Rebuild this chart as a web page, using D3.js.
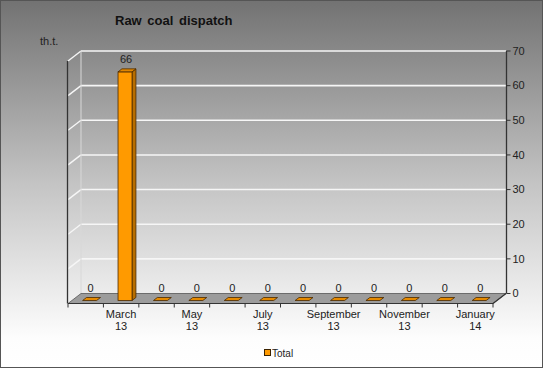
<!DOCTYPE html>
<html><head><meta charset="utf-8">
<script src="https://cdn.jsdelivr.net/npm/d3@7"></script>
<style>html,body{margin:0;padding:0;background:#fff}svg{display:block}</style>
</head><body>
<script>
const months = ["February","March","April","May","June","July","August","September","October","November","December","January"];
const years = ["13","13","13","13","13","13","13","13","13","13","13","14"];
const values = [0,66,0,0,0,0,0,0,0,0,0,0];
const yTicks = [0,10,20,30,40,50,60,70];
const seriesName = "Total";
const title = "Raw coal dispatch";
const unit = "th.t.";

const W = 543, H = 368;
const svg = d3.select("body").append("svg").attr("width", W).attr("height", H);
const defs = svg.append("defs");
const g = defs.append("linearGradient").attr("id","bg").attr("x1",0).attr("y1",0).attr("x2",0).attr("y2",1);
g.append("stop").attr("offset","0%").attr("stop-color","#727272");
g.append("stop").attr("offset","50%").attr("stop-color","#c4c4c4");
g.append("stop").attr("offset","92%").attr("stop-color","#fdfdfd");
g.append("stop").attr("offset","100%").attr("stop-color","#ffffff");
svg.append("rect").attr("width",W).attr("height",H).attr("fill","url(#bg)");

const DX = 13, DY = 10;             // depth offset (back = front + (DX,-DY))
const cats = months.map((m,i)=>m+" "+years[i]);
const x = d3.scaleBand().domain(cats).range([68, 493]).padding(0);
const yB = d3.scaleLinear().domain([0,70]).range([293.5, 51]); // back wall
const font = "'Liberation Sans', Arial, sans-serif";

// back wall gridlines
svg.append("g").selectAll("line").data(yTicks.filter(t=>t>0)).join("line")
  .attr("x1", 68+DX).attr("x2", 493+DX).attr("y1", d=>yB(d)).attr("y2", d=>yB(d))
  .attr("stroke","#f6f6f6").attr("stroke-width",1.6);
// left wall gridlines
svg.append("g").selectAll("line").data(yTicks.filter(t=>t>0)).join("line")
  .attr("x1", 68+DX).attr("x2", 68).attr("y1", d=>yB(d)).attr("y2", d=>yB(d)+DY)
  .attr("stroke","#f6f6f6").attr("stroke-width",1.4);
// left wall back edge
svg.append("line").attr("x1",68+DX).attr("x2",68+DX).attr("y1",yB(70)).attr("y2",yB(0))
  .attr("stroke","#d8d8d8").attr("stroke-width",1);
// left wall front edge
svg.append("line").attr("x1",67.5).attr("x2",67.5).attr("y1",yB(70)+DY).attr("y2",yB(0)+DY)
  .attr("stroke","#333").attr("stroke-width",1.3);

// floor
const fy = yB(0);
svg.append("path")
  .attr("d", `M${68},${fy+DY} L${493},${fy+DY} L${493+DX},${fy} L${68+DX},${fy} Z`)
  .attr("fill","#9c9c9c").attr("stroke","#555").attr("stroke-width",0.8);
svg.append("line").attr("x1",68).attr("x2",493).attr("y1",fy+DY).attr("y2",fy+DY).attr("stroke","#333").attr("stroke-width",1.2);
svg.append("line").attr("x1",493).attr("x2",493+DX).attr("y1",fy+DY).attr("y2",fy).attr("stroke","#333").attr("stroke-width",1.2);

// x ticks
svg.append("g").selectAll("line").data(d3.range(cats.length+1)).join("line")
  .attr("x1", i=>68 + i*x.bandwidth()).attr("x2", i=>68 + i*x.bandwidth())
  .attr("y1", fy+DY).attr("y2", fy+DY+4).attr("stroke","#333");

// bars
const bw = 14, f0 = 0.3, f1 = 0.6;
const bars = svg.append("g");
values.forEach((v,i)=>{
  const x0 = x(cats[i]) + (x.bandwidth()-bw)/2 + f0*DX;
  const yb = yB(0) + (1-f0)*DY;
  const yt = yB(v) + (1-f0)*DY;
  const dx = (f1-f0)*DX, dy = (f1-f0)*DY;
  if (v > 0) {
    bars.append("path").attr("d",`M${x0+bw},${yt} L${x0+bw+dx},${yt-dy} L${x0+bw+dx},${yb-dy} L${x0+bw},${yb} Z`)
      .attr("fill","#b86e00").attr("stroke","#4a2a00").attr("stroke-width",0.8);
    bars.append("rect").attr("x",x0).attr("y",yt).attr("width",bw).attr("height",yb-yt)
      .attr("fill","#ff9a00").attr("stroke","#4a2a00").attr("stroke-width",0.8);
  }
  bars.append("path").attr("d",`M${x0},${yt} L${x0+bw},${yt} L${x0+bw+dx},${yt-dy} L${x0+dx},${yt-dy} Z`)
    .attr("fill", v>0 ? "#e08600" : "#e68a00").attr("stroke","#4a2a00").attr("stroke-width",0.8);
  svg.append("text").attr("x", x0+bw/2+1).attr("y", yt-dy-6)
    .attr("text-anchor","middle").attr("font-family",font).attr("font-size",11).attr("fill","#222").text(v);
});

// right axis
const ax = 506.5;
svg.append("line").attr("x1",ax).attr("x2",ax).attr("y1",yB(70)).attr("y2",yB(0)).attr("stroke","#333").attr("stroke-width",1.3);
const ra = svg.append("g").selectAll("g").data(yTicks).join("g");
ra.append("line").attr("x1",ax).attr("x2",ax+4).attr("y1",d=>yB(d)).attr("y2",d=>yB(d)).attr("stroke","#333");
ra.append("text").attr("x",ax+6).attr("y",d=>yB(d)).attr("dy","0.35em")
  .attr("font-family",font).attr("font-size",11).attr("fill","#222").text(d=>d);

// x labels
const xl = svg.append("g").selectAll("text").data(cats.map((c,i)=>({c,i})).filter(d=>d.i%2===1)).join("text")
  .attr("text-anchor","middle").attr("font-family",font).attr("font-size",11).attr("fill","#222");
xl.append("tspan").attr("x",d=>x(d.c)+x.bandwidth()/2).attr("y",318).text(d=>months[d.i]);
xl.append("tspan").attr("x",d=>x(d.c)+x.bandwidth()/2).attr("y",330).text(d=>years[d.i]);

// title & unit
svg.append("text").attr("x",115).attr("y",25).attr("font-family",font).attr("font-weight","bold")
  .attr("font-size",13).attr("fill","#111").attr("word-spacing",2).text(title);
svg.append("text").attr("x",40).attr("y",45).attr("font-family",font).attr("font-size",11).attr("fill","#222").text(unit);

// legend
svg.append("rect").attr("x",264.5).attr("y",349.5).attr("width",6).attr("height",6)
  .attr("fill","#ff9a00").attr("stroke","#3a2200");
svg.append("text").attr("x",272).attr("y",357).attr("font-family",font).attr("font-size",10).attr("fill","#222").text(seriesName);

// border
svg.append("rect").attr("x",0.5).attr("y",0.5).attr("width",W-1).attr("height",H-1)
  .attr("fill","none").attr("stroke","#555");
</script>
</body></html>
